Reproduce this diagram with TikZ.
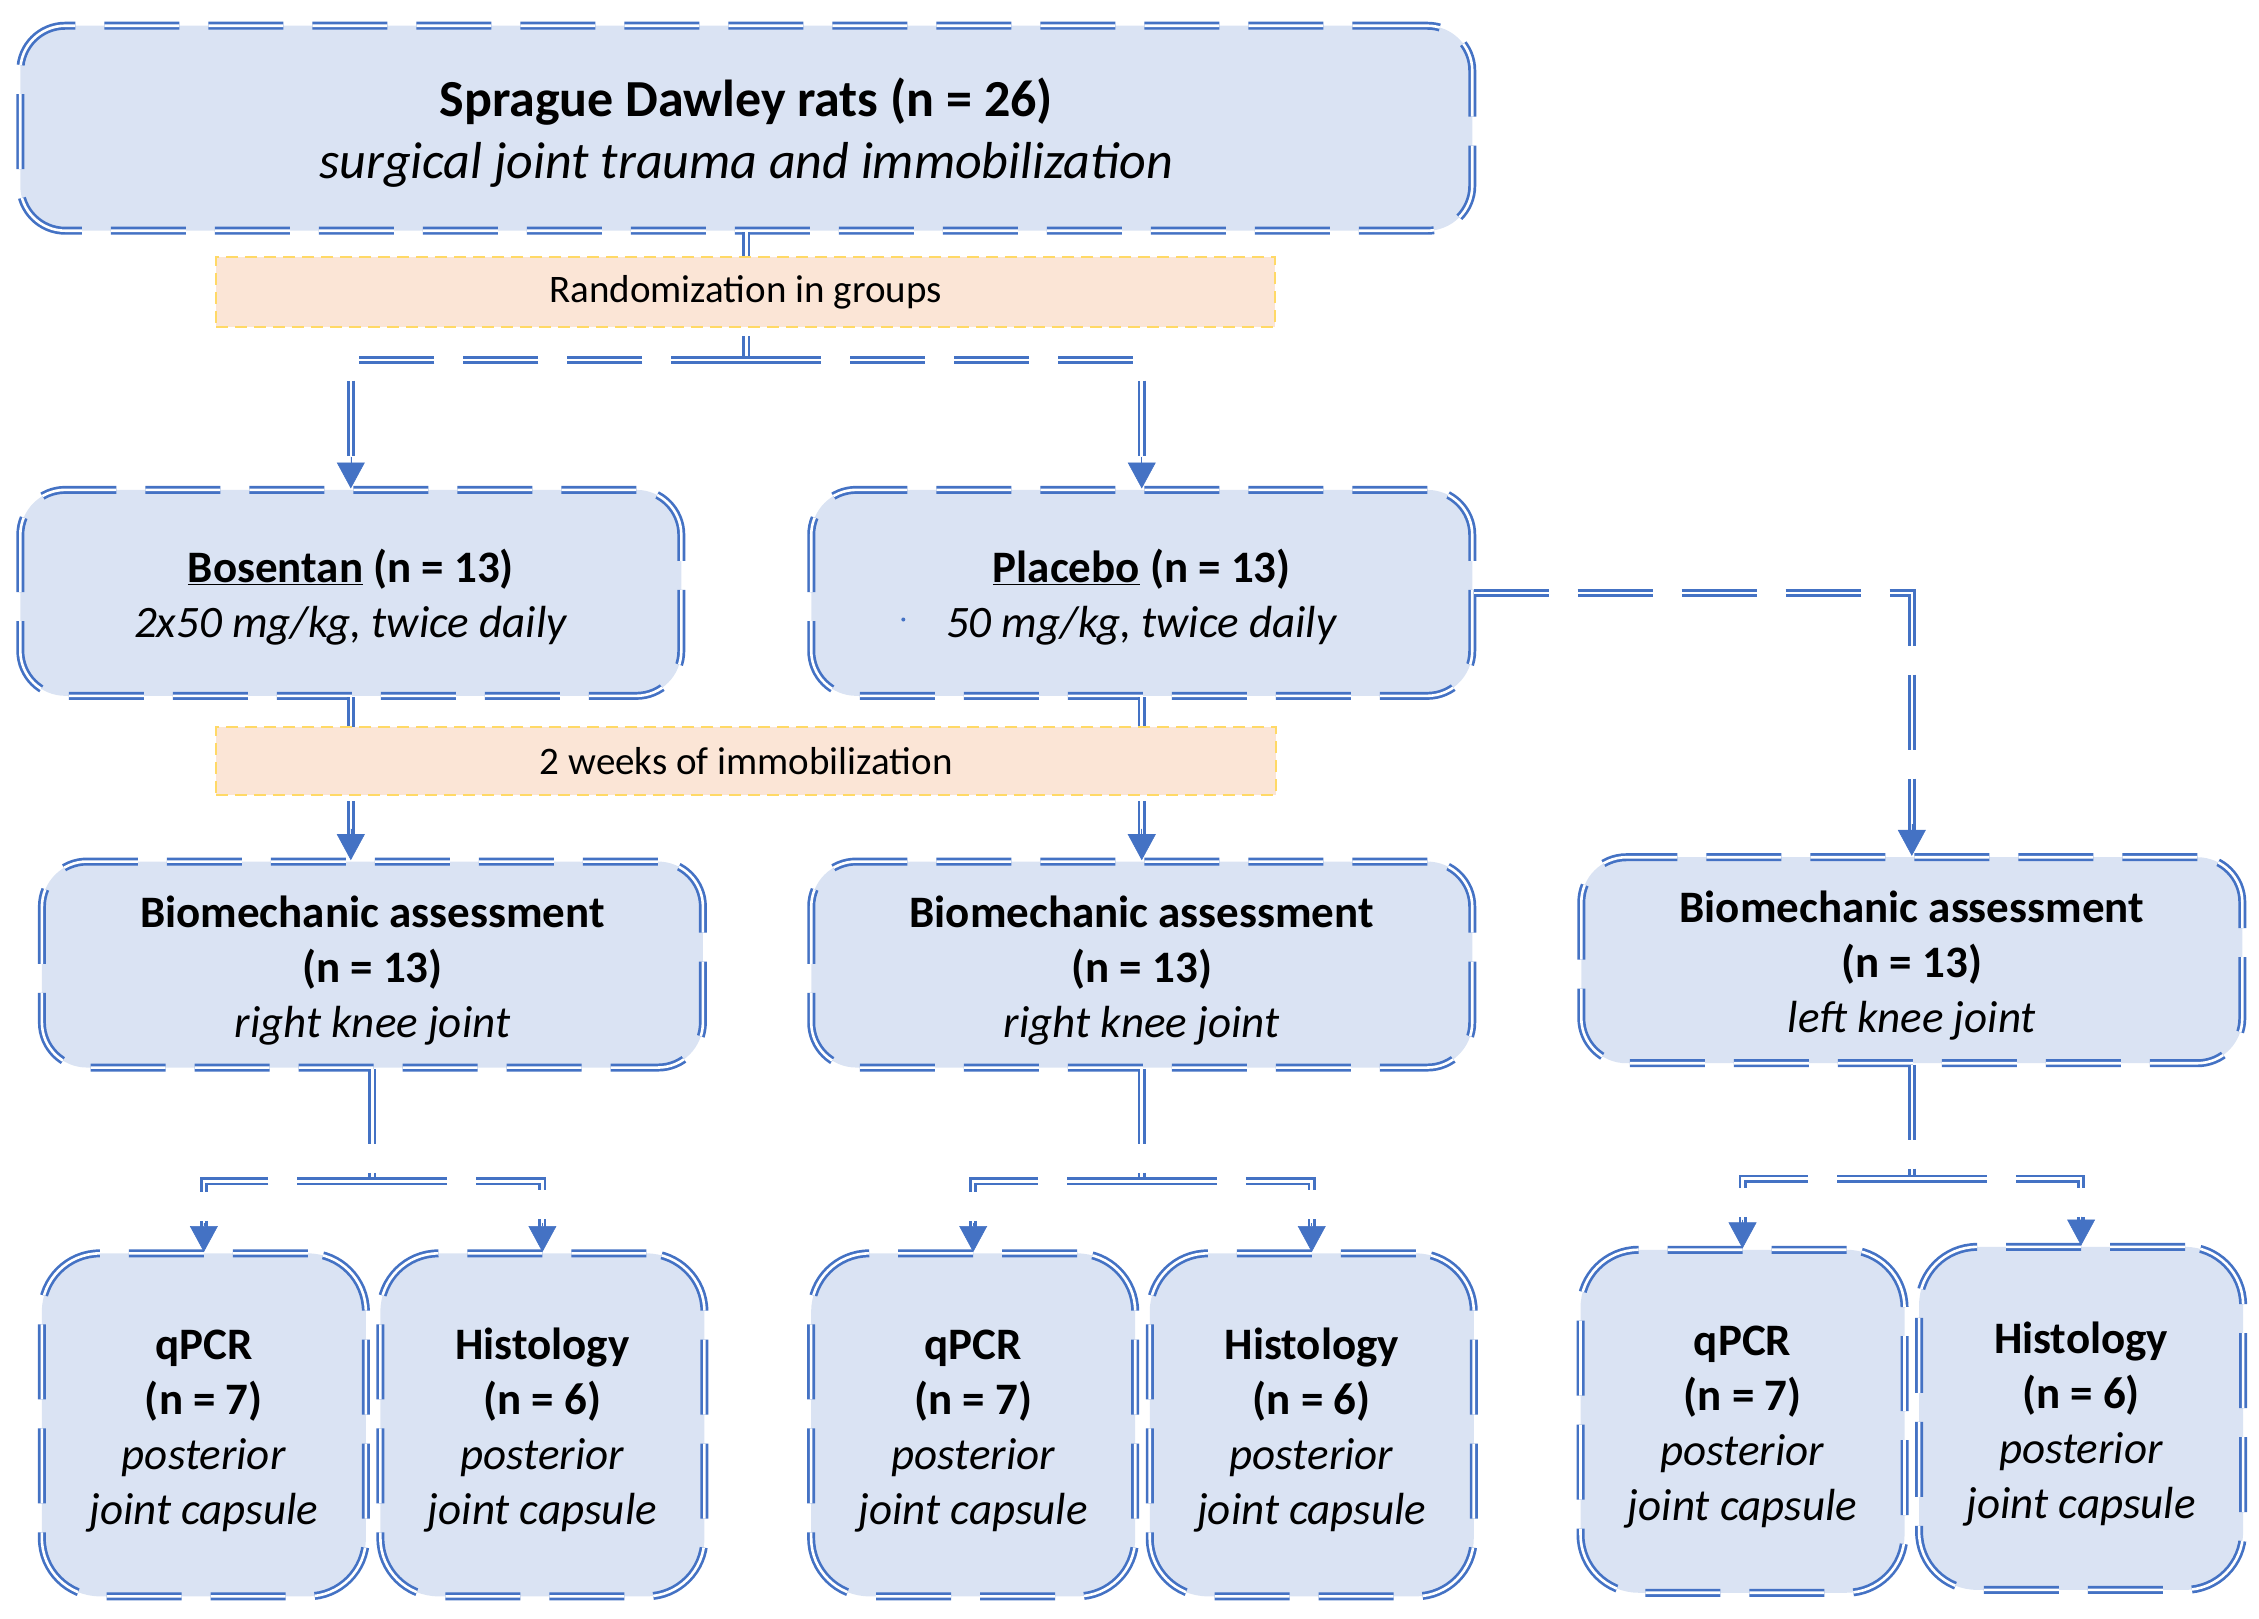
\documentclass[tikz,border=0pt]{standalone}
\usepackage{fontspec}
\setmainfont{Carlito}
\usetikzlibrary{arrows.meta,calc}
\definecolor{lineblue}{HTML}{4472C4}
\definecolor{boxfill}{HTML}{DAE3F3}
\definecolor{orfill}{HTML}{FBE5D6}
\definecolor{orline}{HTML}{FFD966}
\newcommand{\firstup}[1]{\rule{0pt}{#1}}
\begin{document}
\begin{tikzpicture}[x=1.4407pt,y=-1.4407pt,
 dbl/.style={draw=lineblue, double=white, double distance=2.6pt, line width=2.7pt, dash pattern=on 75pt off 29pt},
 bluebox/.style={dbl, fill=boxfill, rounded corners=45pt, align=center, inner sep=0pt},
 bigbox/.style={bluebox, minimum width=661pt, minimum height=206pt, font=\fontsize{45}{55}\selectfont},
 smallbox/.style={bluebox, minimum width=324pt, minimum height=343pt, rounded corners=58pt, font=\fontsize{45}{55}\selectfont},
 orbox/.style={draw=orline, line width=2pt, dash pattern=on 12pt off 7pt, fill=orfill, font=\fontsize{39}{46}\selectfont, minimum width=1059pt, minimum height=70pt, inner sep=0pt},
 tip/.style={draw=lineblue, line width=0.6pt, -{Triangle[length=26pt,width=28pt]}, fill=lineblue},
 conn/.style={dbl, shorten >=20pt}
]
\useasboundingbox (0,0) rectangle (1568,1123.1);

% blue boxes
\node[bluebox, minimum width=1452pt, minimum height=205pt, font=\fontsize{52}{62}\selectfont] (top) at (518,89)
  {\firstup{47pt}\textbf{Sprague Dawley rats (n = 26)}\\\textit{surgical joint trauma and immobilization}};
\node[bigbox] (bos) at (243.5,411.5) {\firstup{42pt}\textbf{\underline{Bosentan} (n = 13)}\\\textit{2x50 mg/kg, twice daily}};
\node[bigbox] (plc) at (792.5,411.5) {\firstup{42pt}\textbf{\underline{Placebo} (n = 13)}\\\textit{50 mg/kg, twice daily}};
\fill[lineblue] (627,430) circle (2pt);
\node[bigbox] (bio1) at (258.5,669.5) {\firstup{43pt}\textbf{Biomechanic assessment}\\\textbf{(n = 13)}\\\textit{right knee joint}};
\node[bigbox] (bio2) at (792.5,669.5) {\firstup{43pt}\textbf{Biomechanic assessment}\\\textbf{(n = 13)}\\\textit{right knee joint}};
\node[bigbox] (bio3) at (1327,666.5) {\firstup{43pt}\textbf{Biomechanic assessment}\\\textbf{(n = 13)}\\\textit{left knee joint}};
\node[smallbox] (q1) at (141.5,989) {\firstup{42pt}\textbf{qPCR}\\\textbf{(n = 7)}\\\textit{posterior}\\\textit{joint capsule}};
\node[smallbox] (h1) at (376.5,989) {\firstup{42pt}\textbf{Histology}\\\textbf{(n = 6)}\\\textit{posterior}\\\textit{joint capsule}};
\node[smallbox] (q2) at (675.5,989) {\firstup{42pt}\textbf{qPCR}\\\textbf{(n = 7)}\\\textit{posterior}\\\textit{joint capsule}};
\node[smallbox] (h2) at (910.5,989) {\firstup{42pt}\textbf{Histology}\\\textbf{(n = 6)}\\\textit{posterior}\\\textit{joint capsule}};
\node[smallbox] (q3) at (1209.5,986.5) {\firstup{42pt}\textbf{qPCR}\\\textbf{(n = 7)}\\\textit{posterior}\\\textit{joint capsule}};
\node[smallbox] (h3) at (1444.5,984.5) {\firstup{42pt}\textbf{Histology}\\\textbf{(n = 6)}\\\textit{posterior}\\\textit{joint capsule}};

% connectors
\coordinate (s1) at (518,250);
\draw[dbl] (top.south) -- (s1);
\draw[conn] (s1) -| (bos.north);
\draw[conn] (s1) -| (plc.north);
\draw[tip] ($(bos.north)+(0,-22)$) -- (bos.north);
\draw[tip] ($(plc.north)+(0,-22)$) -- (plc.north);

\draw[conn] (bos.south) -- (bos.south |- bio1.north);
\draw[tip] ($(bos.south |- bio1.north)+(0,-22)$) -- (bos.south |- bio1.north);
\draw[conn] (plc.south) -- (bio2.north);
\draw[tip] ($(bio2.north)+(0,-22)$) -- (bio2.north);
\draw[conn] (plc.east) -| (bio3.north);
\draw[tip] ($(bio3.north)+(0,-22)$) -- (bio3.north);

\coordinate (s2) at (258.5,820);
\coordinate (s3) at (792.5,820);
\coordinate (s4) at (1327,818);
\draw[dbl] (bio1.south) -- (s2);
\draw[dbl] (bio2.south) -- (s3);
\draw[dbl] (bio3.south) -- (s4);
\foreach \s/\a/\b in {s2/q1/h1, s3/q2/h2, s4/q3/h3}{
  \draw[conn] (\s) -| (\a.north);
  \draw[conn] (\s) -| (\b.north);
  \draw[tip] ($(\a.north)+(0,-20)$) -- (\a.north);
  \draw[tip] ($(\b.north)+(0,-20)$) -- (\b.north);
}

% orange boxes
\node[orbox] (rand) at (517.5,203) {Randomization in groups};
\node[orbox, minimum width=1060pt, minimum height=68pt] (weeks) at (518,528.5) {2 weeks of immobilization};
\end{tikzpicture}
\end{document}
